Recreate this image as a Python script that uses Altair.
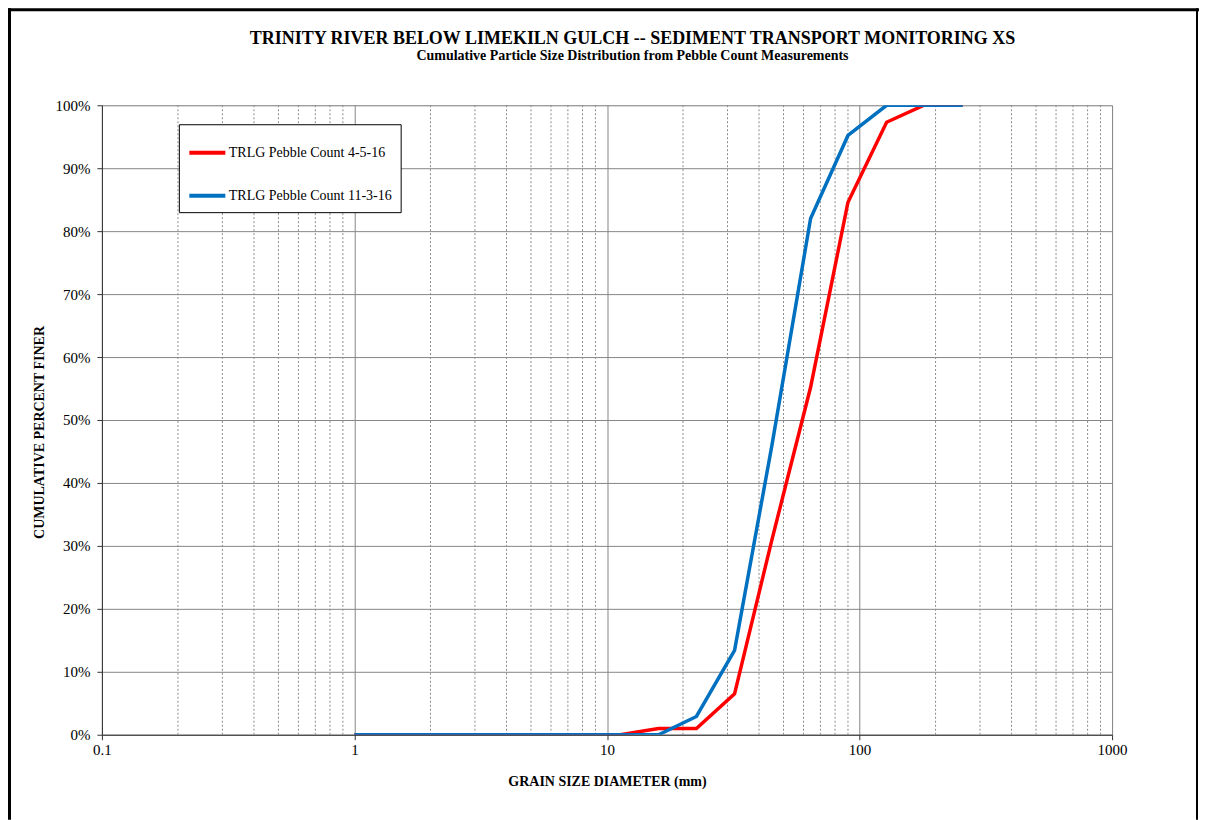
import altair as alt
import pandas as pd

# ---- data ----
grain_mm = [1, 2, 4, 8, 11.3, 16, 22.6, 32, 45, 64, 90, 128, 180, 256]
pct_4_5_16 = [0, 0, 0, 0, 0, 1.0, 1.0, 6.5, 31.0, 55.2, 84.6, 97.3, 100, 100]
pct_11_3_16 = [0, 0, 0, 0, 0, 0, 2.9, 13.4, 46.0, 82.0, 95.2, 100, 100, 100]
series_names = ["TRLG Pebble Count 4-5-16", "TRLG Pebble Count 11-3-16"]
series_colors = ["#FF0000", "#0070C0"]

major_ticks = [0.1, 1, 10, 100, 1000]
minor_grid = [0.2, 0.3, 0.4, 0.5, 0.6, 0.7, 0.8, 0.9,
              2, 3, 4, 5, 6, 7, 8, 9,
              20, 30, 40, 50, 60, 70, 80, 90,
              200, 300, 400, 500, 600, 700, 800, 900]
y_ticks = [0, 0.1, 0.2, 0.3, 0.4, 0.5, 0.6, 0.7, 0.8, 0.9, 1.0]

title_text = "TRINITY RIVER BELOW LIMEKILN GULCH -- SEDIMENT TRANSPORT MONITORING XS"
subtitle_text = "Cumulative Particle Size Distribution from Pebble Count Measurements"

rows = []
for name, vals in zip(series_names, [pct_4_5_16, pct_11_3_16]):
    for i, (g, v) in enumerate(zip(grain_mm, vals)):
        rows.append({"series": name, "size": g, "pct": v / 100.0, "order": i})
df = pd.DataFrame(rows)
df_minor = pd.DataFrame({"g": minor_grid})
df_one = pd.DataFrame({"a": [0]})
df_title = pd.DataFrame({"t": [title_text]})
df_sub = pd.DataFrame({"t": [subtitle_text]})

FONT = "Liberation Serif"
W, H = 1011, 630

xscale = alt.Scale(type="log", domain=[0.1, 1000], nice=False)
yscale = alt.Scale(domain=[0, 1], nice=False)

xaxis = alt.Axis(values=major_ticks, format=".4~g", title="GRAIN SIZE DIAMETER (mm)",
                 grid=True, gridColor="#868686", gridWidth=1,
                 domainColor="#333333", tickColor="#333333", tickSize=5,
                 labelPadding=3, labelFontSize=15, labelFont=FONT, labelColor="black",
                 labelFlush=False,
                 titleFont=FONT, titleFontSize=14, titleFontWeight="bold",
                 titleColor="black", titlePadding=17)
yaxis = alt.Axis(values=y_ticks, format=".0%", title="CUMULATIVE PERCENT FINER",
                 grid=True, gridColor="#868686", gridWidth=1,
                 domainColor="#333333", tickColor="#333333", tickSize=5,
                 labelPadding=7, labelFontSize=15, labelFont=FONT, labelColor="black",
                 labelFlush=False,
                 titleFont=FONT, titleFontSize=14, titleFontWeight="bold",
                 titleColor="black", titleX=-62, titleY=327, titleBaseline="middle",
                 titleAlign="center")

minor = alt.Chart(df_minor).mark_rule(
    color="#8c8c8c", strokeWidth=1, strokeDash=[2, 2]
).encode(
    x=alt.X("g:Q", scale=xscale, axis=xaxis)
)

lines = alt.Chart(df).mark_line(strokeWidth=3.5, clip=True).encode(
    x=alt.X("size:Q", scale=xscale, axis=xaxis),
    y=alt.Y("pct:Q", scale=yscale, axis=yaxis),
    color=alt.Color("series:N",
                    scale=alt.Scale(domain=series_names, range=series_colors),
                    sort=series_names,
                    legend=alt.Legend(orient="none", legendX=77, legendY=19, title=None,
                                      strokeColor="black", fillColor="white", padding=8,
                                      symbolType="stroke", symbolStrokeWidth=4, symbolSize=1300,
                                      rowPadding=14, labelFont=FONT, labelFontSize=14,
                                      labelColor="black", labelOffset=1, labelLimit=300)),
    order="order:Q",
)

title_mark = alt.Chart(df_title).mark_text(
    font=FONT, fontSize=18, fontWeight="bold", color="black", align="center", baseline="alphabetic"
).encode(text="t:N", x=alt.value(531), y=alt.value(-61))
sub_mark = alt.Chart(df_sub).mark_text(
    font=FONT, fontSize=14, fontWeight="bold", color="black", align="center", baseline="alphabetic"
).encode(text="t:N", x=alt.value(531), y=alt.value(-45))

frame_left = alt.Chart(df_one).mark_rule(color="black", strokeWidth=3).encode(
    x=alt.value(-92.5), y=alt.value(-97), y2=alt.value(H + 85)
)
frame_top = alt.Chart(df_one).mark_rule(color="black", strokeWidth=3).encode(
    x=alt.value(-94), x2=alt.value(W + 87), y=alt.value(-95.5)
)
frame_right = alt.Chart(df_one).mark_rule(color="black", strokeWidth=2).encode(
    x=alt.value(1096), y=alt.value(-97), y2=alt.value(H + 85)
)

chart = alt.layer(minor, lines, title_mark, sub_mark, frame_left, frame_top, frame_right).properties(
    width=W, height=H,
    autosize=alt.AutoSizeParams(type="none"),
    padding={"left": 94, "top": 97, "right": 87, "bottom": 85},
).configure_view(stroke="#868686", strokeWidth=1).configure(background="white")

chart.save("out.html", embed_options={"renderer": "svg", "actions": False})
